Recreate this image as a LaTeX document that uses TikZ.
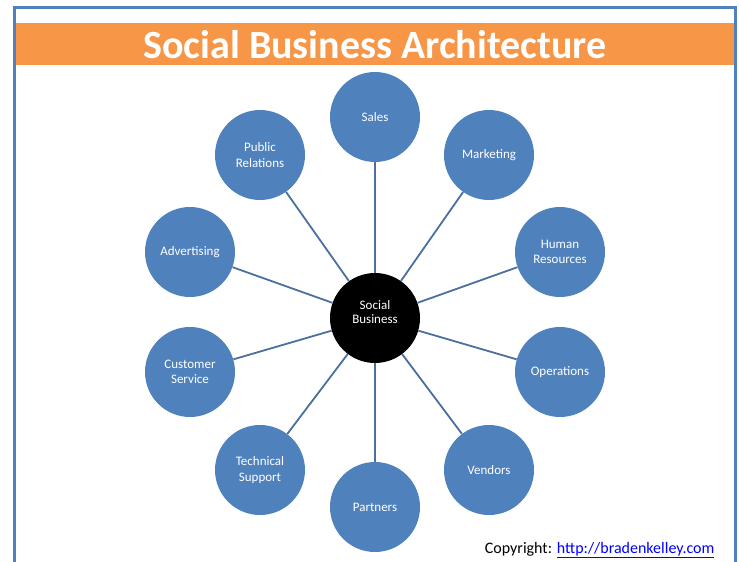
\documentclass[tikz,border=0pt]{standalone}
\usepackage{fontspec}
\setmainfont{Carlito}
\definecolor{framecol}{HTML}{4F81BD}
\definecolor{bandcol}{HTML}{F79646}
\definecolor{unitcol}{HTML}{4F81BD}
\definecolor{spokecol}{HTML}{4A6FA0}
\definecolor{linkcol}{HTML}{0000FF}
\begin{document}
\begin{tikzpicture}[x=1pt, y=-1pt]
            \tikzstyle{frame} = [framecol, line width=3pt]
            \tikzstyle{band} = [fill=bandcol, draw=none]
            \tikzstyle{unit} = [circle, fill=unitcol, minimum size=90pt, inner sep=0pt, align=center, text=white, font=\fontsize{13}{15.5}\selectfont]
            \tikzstyle{hubunit} = [unit, fill=black]
            \tikzstyle{spoke} = [spokecol, line width=1.8pt]
            \useasboundingbox (0, 0) rectangle (739, 562);
            \draw[frame] (14, 562) -- (14, 7) -- (735, 7) -- (735, 562);
            \fill[band] (15.5, 23) rectangle (733.5, 65);
            \node[text=white, font=\fontsize{40}{44}\selectfont\bfseries] (title) at (375, 45) {Social Business Architecture};
            \node[hubunit] (hub) at (375, 318) {Social\\[-1pt]Business\rule[-12pt]{0pt}{12pt}};
            \foreach \px/\py/\nm/\txt in {
                375/117/sales/Sales,
                489/155/marketing/Marketing,
                560/252/hr/Human\\Resources,
                560/372/operations/Operations,
                489/470/vendors/Vendors,
                375/507/partners/Partners,
                260/470/support/Technical\\Support,
                190/372/service/Customer\\Service,
                190/252/advertising/Advertising,
                260/155/pr/Public\\Relations} {
                \node[unit] (\nm) at (\px, \py) {\txt};
                \draw[spoke] (hub) -- (\nm);
            }
            \node[anchor=base east, font=\fontsize{16}{18}\selectfont] (copyright) at (718, 553) {Copyright: \textcolor{linkcol}{\underline{http://bradenkelley.com}}};
        \end{tikzpicture}
\end{document}
